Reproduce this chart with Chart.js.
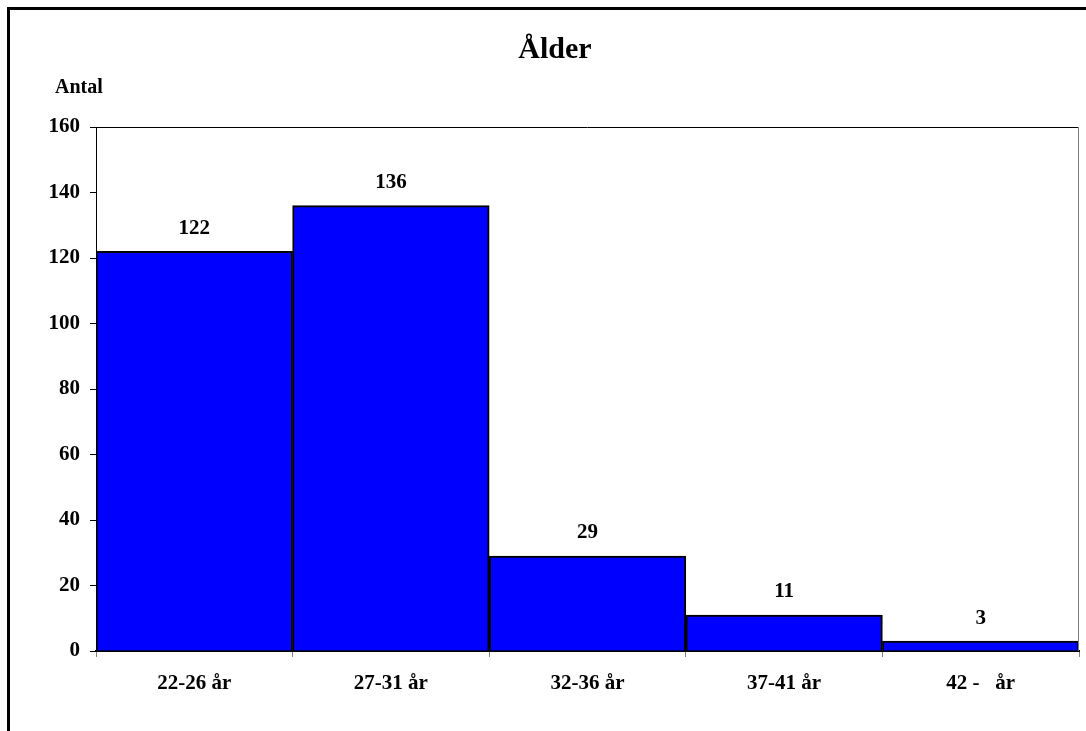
<!DOCTYPE html>
<html>
<head>
<meta charset="utf-8">
<script src="https://cdn.jsdelivr.net/npm/chart.js@4"></script>
<style>
    html, body { margin: 0; padding: 0; background: #fff; }
    #wrap { width: 1086px; height: 731px; }
</style>
</head>
<body>
<div id="wrap"><canvas id="alder"></canvas></div>
<script>
const categories = ["22-26 år", "27-31 år", "32-36 år", "37-41 år", "42 -   år"];
const counts = [122, 136, 29, 11, 3];
const yTicks = [0, 20, 40, 60, 80, 100, 120, 140, 160];

const serif = "'Liberation Serif', 'Times New Roman', serif";

// frame, plot border, "Antal" and the value labels
const extras = {
    id: "extras",
    beforeDraw(chart) {
        const ctx = chart.ctx;
        ctx.save();
        ctx.strokeStyle = "#000";
        ctx.lineWidth = 3;
        ctx.strokeRect(8.5, 8.5, 1300, 1300);
        ctx.restore();
    },
    afterDraw(chart) {
        const ctx = chart.ctx;
        const a = chart.chartArea;
        ctx.save();
        ctx.lineWidth = 1;
        ctx.strokeStyle = "#000";
        ctx.beginPath();
        ctx.moveTo(a.left, a.top + 0.5);
        ctx.lineTo(a.right, a.top + 0.5);
        ctx.stroke();
        ctx.strokeStyle = "#808080";
        ctx.beginPath();
        ctx.moveTo(a.right - 0.5, a.top);
        ctx.lineTo(a.right - 0.5, a.bottom);
        ctx.stroke();

        ctx.fillStyle = "#000";
        ctx.font = "bold 20px " + serif;
        ctx.textAlign = "left";
        ctx.textBaseline = "middle";
        ctx.fillText("Antal", 55, 88);

        ctx.font = "bold 21px " + serif;
        ctx.textAlign = "center";
        const meta = chart.getDatasetMeta(0);
        meta.data.forEach((bar, i) => {
            ctx.fillText(String(counts[i]), bar.x, bar.y - 23);
        });
        ctx.restore();
    }
};

new Chart(document.getElementById("alder"), {
    type: "bar",
    data: {
        labels: categories,
        datasets: [
            {
                label: "Antal",
                data: counts,
                backgroundColor: "#0000ff",
                borderColor: "#000",
                borderWidth: 2,
                barPercentage: 1,
                categoryPercentage: 1,
            },
        ],
    },
    options: {
        responsive: true,
        maintainAspectRatio: false,
        animation: false,
        layout: {
            padding: { left: 31, right: 7, top: 0, bottom: 0 },
        },
        plugins: {
            legend: { display: false },
            tooltip: { enabled: false },
            title: {
                display: true,
                text: "Ålder",
                color: "#000",
                font: { family: serif, size: 30, weight: "bold" },
                padding: { top: 32, bottom: 59 },
            },
        },
        scales: {
            x: {
                grid: {
                    offset: true,
                    drawOnChartArea: false,
                    tickLength: 6,
                    color: "#808080",
                },
                border: { color: "#000", width: 2 },
                ticks: {
                    color: "#000",
                    padding: 14,
                    font: { family: serif, size: 21, weight: "bold" },
                },
                afterFit(scale) { scale.height = 80; },
            },
            y: {
                min: 0,
                max: 160,
                afterBuildTicks(scale) {
                    scale.ticks = yTicks.map((v) => ({ value: v }));
                },
                grid: {
                    drawOnChartArea: false,
                    tickLength: 6,
                    color: "#000",
                },
                border: { color: "#000", width: 1 },
                ticks: {
                    color: "#000",
                    padding: 10,
                    font: { family: serif, size: 21, weight: "bold" },
                },
                afterFit(scale) { scale.width = 65; },
            },
        },
    },
    plugins: [extras],
});
</script>
</body>
</html>
